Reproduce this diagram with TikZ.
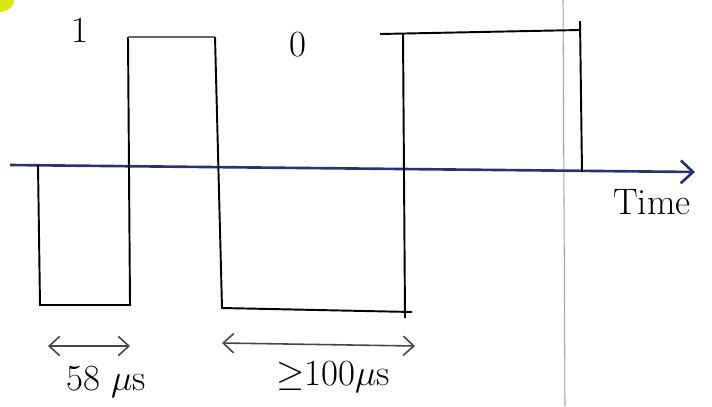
\documentclass[tikz,border=0pt]{standalone}
\usepackage{amsmath, amssymb}
\usepackage{tikz}
\usetikzlibrary{arrows.meta}

\definecolor{inkblue}{RGB}{40,52,110}
\definecolor{inkgray}{RGB}{70,70,70}

\begin{document}
\begin{tikzpicture}[x=0.02cm, y=-0.02cm,
    every node/.style={font=\fontsize{21}{24}\selectfont},
    pulse/.style={black, line width=1.1pt},
    span/.style={inkgray, line width=0.9pt, {Straight Barb[length=6pt,width=11pt]}-{Straight Barb[length=6pt,width=11pt]}}]
    \useasboundingbox (0,0) rectangle (712,406);

    % ==========================================
    % PAPER (highlighter mark and margin line)
    % ==========================================
    \fill[yellow!85!green] (0,0) -- (14,0) .. controls (14,8) and (6,12) .. (0,12) -- cycle;
    \draw[gray!70, line width=0.6pt] (563,0) -- (565,406);

    % ==========================================
    % TIME AXIS
    % ==========================================
    \coordinate (AxisStart) at (10,165);
    \coordinate (AxisEnd) at (695,172);
    \draw[inkblue, line width=1.5pt, -{Straight Barb[length=7pt,width=13pt]}] (AxisStart) -- (AxisEnd);
    \node[anchor=north] (TimeLbl) at (652,183) {Time};

    % ==========================================
    % WAVEFORM
    % ==========================================
    % Bit 1 (two short halves)
    \coordinate (OneStart) at (38,165);
    \coordinate (OneLow) at (40,305);
    \coordinate (OneRise) at (130,305);
    \coordinate (OneTop) at (128,37);
    \coordinate (OneFall) at (215,37);
    \draw[pulse] (OneStart) -- (OneLow) -- (OneRise) -- (OneTop);
    \draw[pulse, black!60] (OneTop) -- (OneFall);

    % Bit 0 (two long halves)
    \coordinate (ZeroLow) at (222,308);
    \coordinate (ZeroRise) at (412,312);
    \coordinate (ZeroFoot) at (405,318);
    \coordinate (ZeroUp) at (403,33);
    \coordinate (ZeroTopStart) at (380,34);
    \coordinate (ZeroTopEnd) at (580,30);
    \coordinate (ZeroFallEnd) at (582,172);
    \draw[pulse] (OneFall) -- (ZeroLow) -- (ZeroRise);
    \draw[pulse] (ZeroFoot) -- (ZeroUp);
    \draw[pulse] (ZeroTopStart) -- (ZeroTopEnd);
    \draw[pulse] ([yshift=5]ZeroTopEnd) -- (ZeroFallEnd);

    % Bit labels
    \node (BitOne) at (80,30) {1};
    \node (BitZero) at (298,45) {0};

    % ==========================================
    % DURATIONS
    % ==========================================
    \coordinate (ShortL) at (48,346);
    \coordinate (ShortR) at (130,346);
    \draw[span] (ShortL) -- (ShortR);
    \node (ShortLbl) at (106,382) {58 $\mu$s};

    \coordinate (LongL) at (222,343);
    \coordinate (LongR) at (415,346);
    \draw[span] (LongL) -- (LongR);
    \node (LongLbl) at (333,377) {$\geq$100$\mu$s};
\end{tikzpicture}
\end{document}
